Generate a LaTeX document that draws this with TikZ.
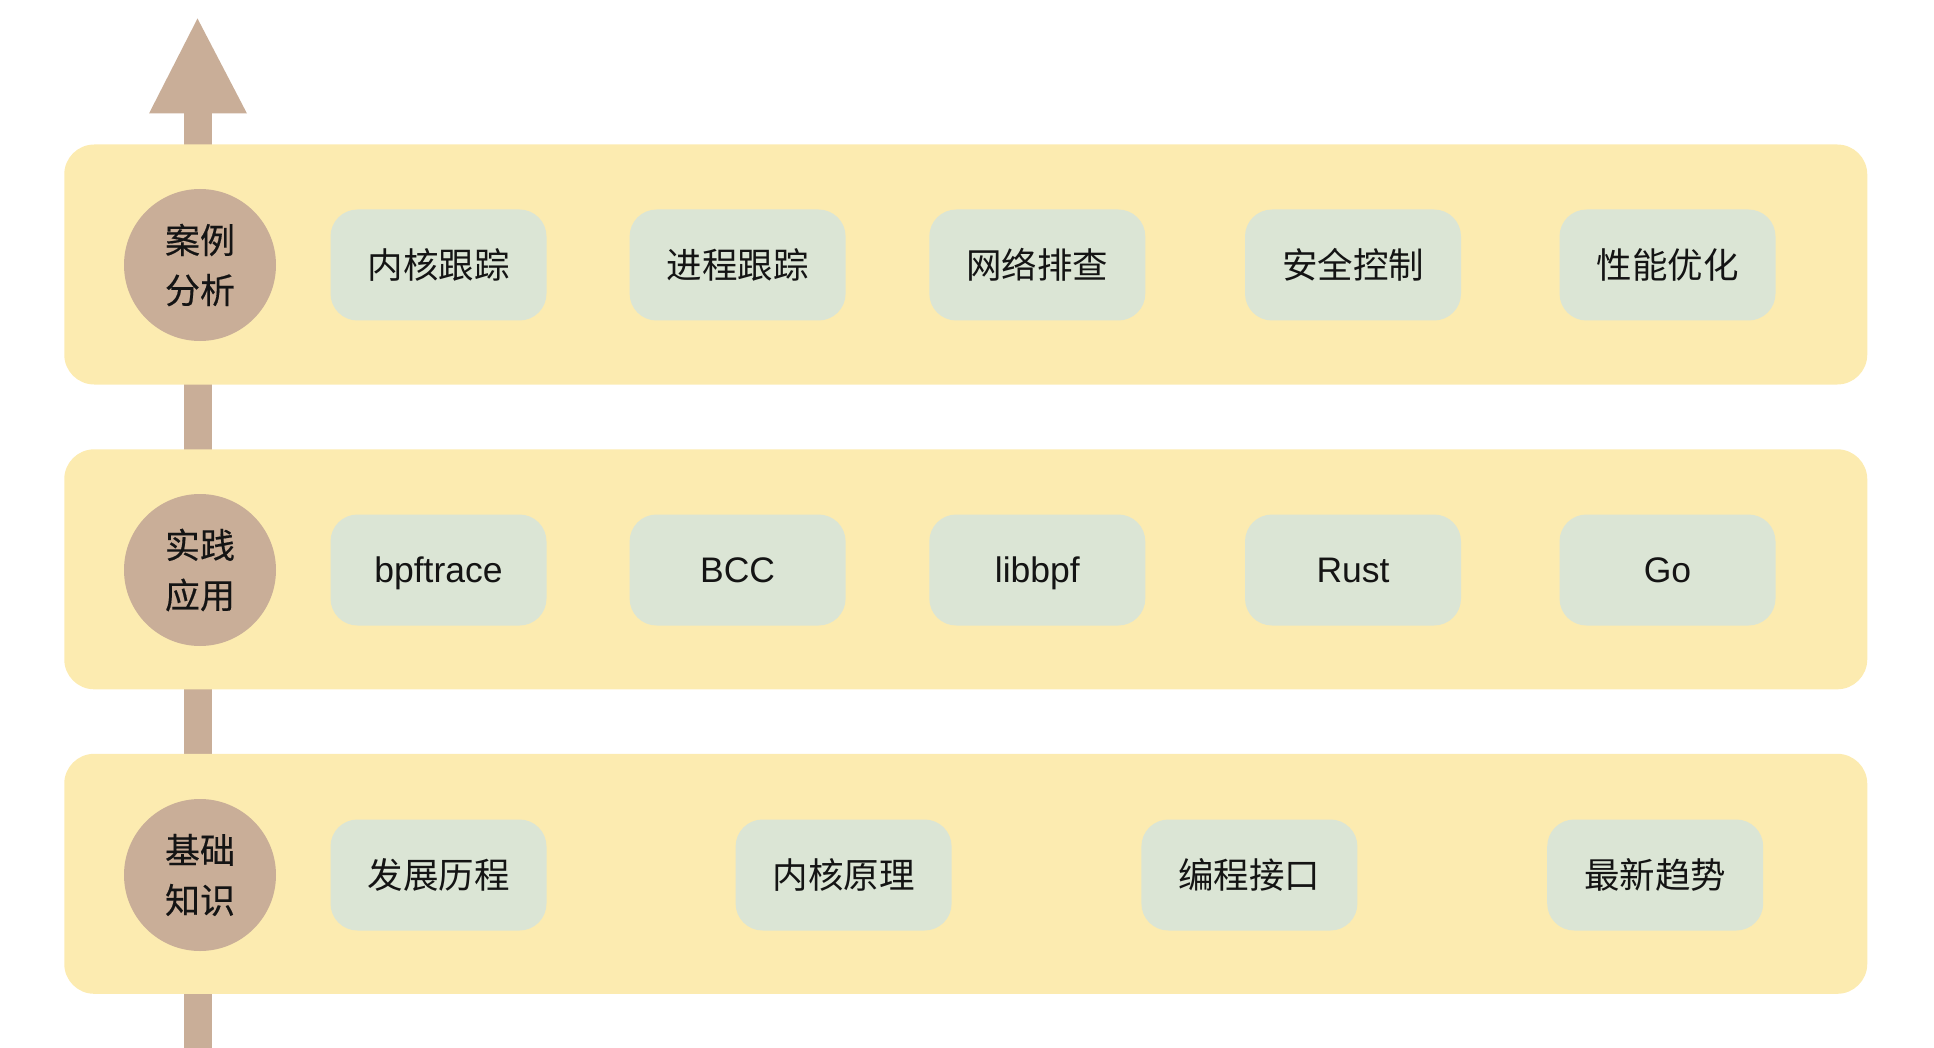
\documentclass[tikz,border=0pt]{standalone}
\usepackage{fontspec}
\setmainfont{Liberation Sans}
\newfontfamily\cjk{Noto Sans CJK SC}
\newfontfamily\cjkm[FakeBold=0.35]{Noto Sans CJK SC}
\definecolor{bandc}{HTML}{FCEBB0}
\definecolor{boxc}{HTML}{DBE5D5}
\definecolor{brownc}{HTML}{C9AE98}
\definecolor{txtc}{HTML}{141414}
\begin{document}
\begin{tikzpicture}[x=1pt,y=-1pt,
  band/.style={fill=bandc, draw=none, rounded corners=30pt, minimum width=1803pt, minimum height=240pt, inner sep=0pt},
  lvl/.style={circle, fill=brownc, draw=none, minimum size=152pt, inner sep=0pt, align=center, text=txtc, font=\cjkm\fontsize{35}{50}\selectfont},
  item/.style={fill=boxc, draw=none, rounded corners=27pt, minimum width=216pt, minimum height=111pt, inner sep=0pt, text=txtc, font=\cjk\fontsize{35.5}{42}\selectfont},
  litem/.style={item, font=\fontsize{35.5}{42}\selectfont, text height=32pt, text depth=6.6pt}]
\useasboundingbox (0,0) rectangle (1934,1048);
% arrow
\coordinate (abot) at (198,1048);
\coordinate (abase) at (198,113.5);
\coordinate (atip) at (197.5,18.5);
\fill[brownc] ([xshift=-14pt]abot) rectangle ([xshift=14pt]abase);
\fill[brownc] ([xshift=-49pt]abase) -- (atip) -- ([xshift=49pt]abase) -- cycle;
% bands
\node[band] (b3) at (965.75,264.5) {};
\node[band] (b2) at (965.75,569.3) {};
\node[band] (b1) at (965.75,873.8) {};
% level circles
\node[lvl] (l3) at (200,265) {案例\\分析};
\node[lvl] (l2) at (200,570) {实践\\应用};
\node[lvl] (l1) at (200,875) {基础\\知识};
% top row
\node[item] (t1) at (438.5,265) {内核跟踪};
\node[item] (t2) at (737.6,265) {进程跟踪};
\node[item] (t3) at (1037.3,265) {网络排查};
\node[item] (t4) at (1353,265) {安全控制};
\node[item] (t5) at (1667.5,265) {性能优化};
% middle row
\node[litem] (m1) at (438.5,570) {bpftrace};
\node[litem] (m2) at (737.6,570) {BCC};
\node[litem] (m3) at (1037.3,570) {libbpf};
\node[litem] (m4) at (1353,570) {Rust};
\node[litem] (m5) at (1667.5,570) {Go};
% bottom row
\node[item] (d1) at (438.5,875) {发展历程};
\node[item] (d2) at (843.6,875) {内核原理};
\node[item] (d3) at (1249.4,875) {编程接口};
\node[item] (d4) at (1655.2,875) {最新趋势};
\end{tikzpicture}
\end{document}
